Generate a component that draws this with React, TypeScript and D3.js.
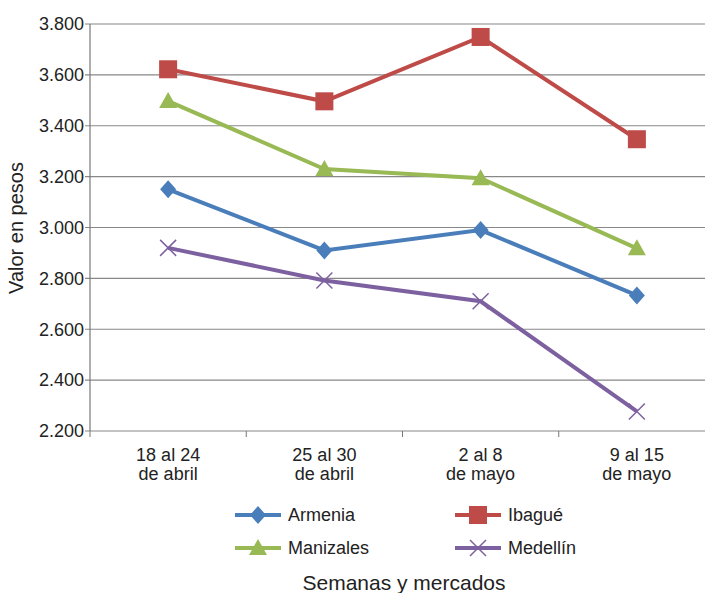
import * as d3 from 'd3';

const categories = ['18 al 24|de abril', '25 al 30|de abril', '2 al 8|de mayo', '9 al 15|de mayo'];
const yTicks = [2200, 2400, 2600, 2800, 3000, 3200, 3400, 3600, 3800];
const armenia = [3150, 2910, 2990, 2733];
const ibague = [3622, 3496, 3749, 3347];
const manizales = [3497, 3230, 3194, 2918];
const medellin = [2920, 2792, 2710, 2277];

const series = [
  { name: 'Armenia', values: armenia, color: '#4a7ebb', marker: 'diamond' },
  { name: 'Ibagué', values: ibague, color: '#be4b48', marker: 'square' },
  { name: 'Manizales', values: manizales, color: '#98b954', marker: 'triangle' },
  { name: 'Medellín', values: medellin, color: '#7d60a0', marker: 'x' },
];

const fmt = (v: number) => d3.format(',.3f')(v / 1000);

function Marker({ kind, x, y, color }: { kind: string; x: number; y: number; color: string }) {
  if (kind === 'diamond') return <path d={`M${x},${y - 9}L${x + 8},${y}L${x},${y + 9}L${x - 8},${y}Z`} fill={color} />;
  if (kind === 'square') return <rect x={x - 9} y={y - 9} width={18} height={18} fill={color} />;
  if (kind === 'triangle') return <path d={`M${x},${y - 9}L${x + 9},${y + 7}L${x - 9},${y + 7}Z`} fill={color} />;
  return <path d={`M${x - 8},${y - 8}L${x + 8},${y + 8}M${x - 8},${y + 8}L${x + 8},${y - 8}`} stroke={color} strokeWidth={1.5} />;
}

export default function App() {
  const W = 705, H = 593;
  const left = 90, right = 715, top = 24, bottom = 431;
  const x = d3.scaleBand().domain(categories).range([left, right]);
  const y = d3.scaleLinear().domain([2200, 3800]).range([bottom, top]);
  const line = d3.line<number>().x((_, i) => x(categories[i])! + x.bandwidth() / 2).y(d => y(d));
  const font = '"Liberation Sans", Arial, sans-serif';
  const legend = [
    { s: series[0], lx: 235, ly: 515 },
    { s: series[1], lx: 455, ly: 515 },
    { s: series[2], lx: 235, ly: 548 },
    { s: series[3], lx: 455, ly: 548 },
  ];
  return (
    <svg width={W} height={H} style={{ position: 'absolute', left: 0, top: 0, background: '#fff' }} fontFamily={font}>
      {yTicks.map(t => (
        <g key={t}>
          <line x1={left - 5} x2={right} y1={y(t)} y2={y(t)} stroke="#888" strokeWidth={1.2} />
          <text x={left - 6} y={y(t)} dy="0.35em" textAnchor="end" fontSize={18} fill="#222">{fmt(t)}</text>
        </g>
      ))}
      <line x1={left} x2={left} y1={top} y2={bottom} stroke="#777" strokeWidth={1.2} />
      {categories.map(c => (
        <g key={c}>
          <line x1={x(c)!} x2={x(c)!} y1={bottom} y2={bottom + 6} stroke="#777" />
          {c.split('|').map((l, j) => (
            <text key={j} x={x(c)! + x.bandwidth() / 2} y={461 + j * 19} textAnchor="middle" fontSize={18} fill="#222">{l}</text>
          ))}
        </g>
      ))}
      {series.map(s => (
        <g key={s.name}>
          <path d={line(s.values)!} fill="none" stroke={s.color} strokeWidth={4} />
          {s.values.map((v, i) => (
            <Marker key={i} kind={s.marker} x={x(categories[i])! + x.bandwidth() / 2} y={y(v)} color={s.color} />
          ))}
        </g>
      ))}
      <text transform="translate(23,228) rotate(-90)" textAnchor="middle" fontSize={20} fill="#222">Valor en pesos</text>
      {legend.map(({ s, lx, ly }) => (
        <g key={s.name}>
          <line x1={lx} x2={lx + 46} y1={ly} y2={ly} stroke={s.color} strokeWidth={4} />
          <Marker kind={s.marker} x={lx + 23} y={ly} color={s.color} />
          <text x={lx + 53} y={ly} dy="0.35em" fontSize={18} fill="#222">{s.name}</text>
        </g>
      ))}
      <text x={404} y={590} textAnchor="middle" fontSize={21} fill="#222">Semanas y mercados</text>
    </svg>
  );
}
